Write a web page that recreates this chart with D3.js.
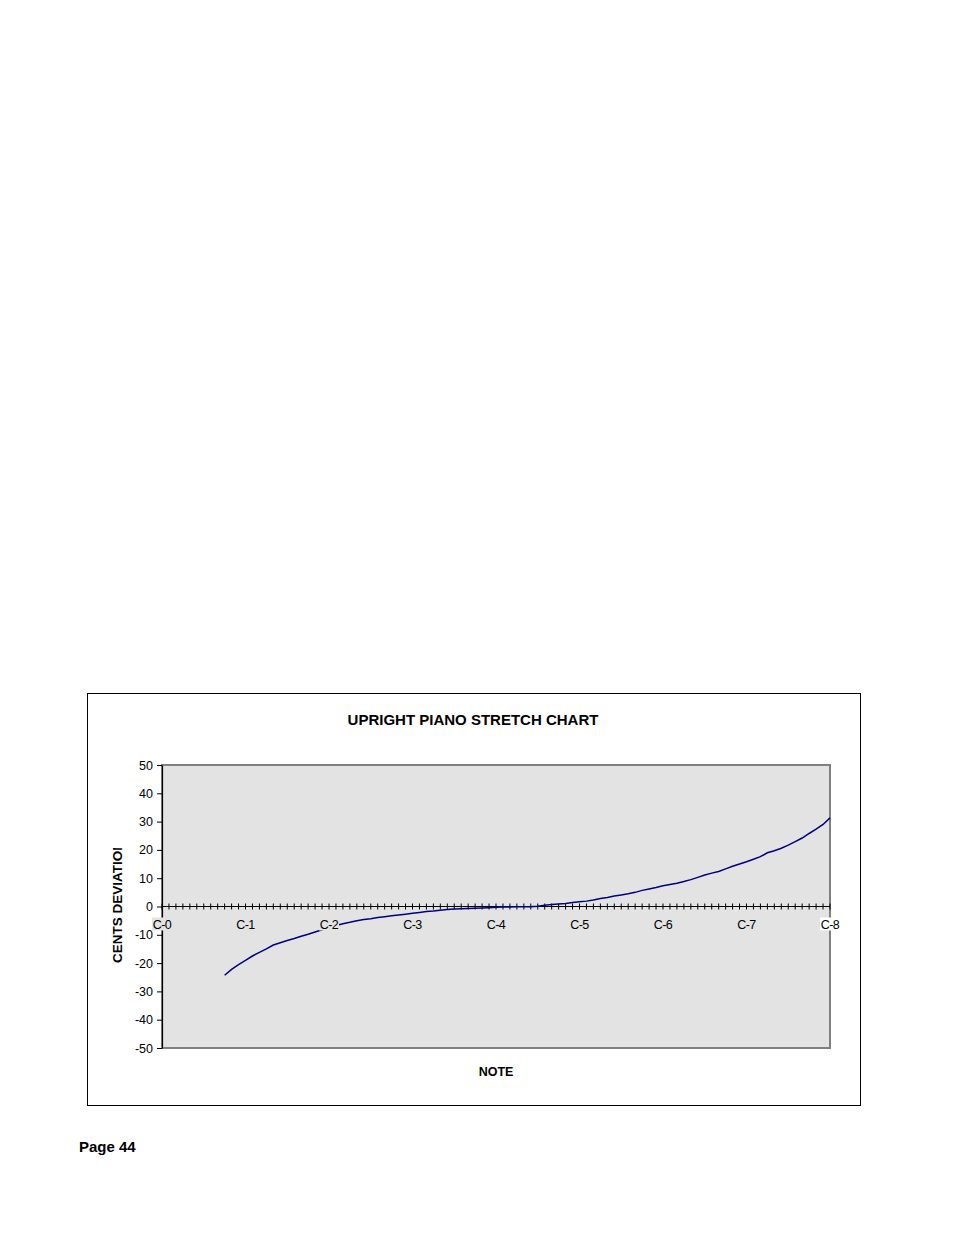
<!DOCTYPE html>
<html>
<head>
<meta charset="utf-8">
<script src="https://cdn.jsdelivr.net/npm/d3@7"></script>
<style>
  body { margin: 0; background: #fff; }
  svg text { font-family: "Liberation Sans", Arial, sans-serif; }
</style>
</head>
<body>
<div id="chart"></div>
<script>
// semitone index from C-0; the piano starts at A-0
var firstNote = 9;
var octaveLabels = ["C-0", "C-1", "C-2", "C-3", "C-4", "C-5", "C-6", "C-7", "C-8"];
var yTicks = [50, 40, 30, 20, 10, 0, -10, -20, -30, -40, -50];
// cents deviation for each key, A-0 .. C-8
var cents = [
  -24.3, -22.2, -20.5,
  -19.0, -17.5, -16.2, -15.0, -13.6, -12.8, -12.0, -11.3, -10.5, -9.8, -9.0, -8.2,
  -7.4, -6.7, -6.1, -5.6, -5.0, -4.6, -4.3, -3.9, -3.6, -3.3, -3.0, -2.7,
  -2.4, -2.1, -1.8, -1.6, -1.3, -1.1, -0.9, -0.8, -0.7, -0.6, -0.5, -0.4,
  -0.3, -0.2, -0.2, -0.1, -0.1, -0.1, 0.1, 0.4, 0.7, 0.9, 1.1, 1.4,
  1.7, 1.9, 2.3, 2.8, 3.2, 3.7, 4.1, 4.5, 5.0, 5.7, 6.2, 6.7,
  7.3, 7.8, 8.2, 8.8, 9.5, 10.3, 11.1, 11.8, 12.4, 13.3, 14.2, 15.0,
  15.8, 16.7, 17.6, 19.0, 19.7, 20.6, 21.7, 22.9, 24.2, 25.8, 27.3, 29.0,
  31.3
];

var W = 954, H = 1235;
var plotL = 162, plotR = 830, plotT = 765, plotB = 1048;

var svg = d3.select('#chart')
            .append('svg')
            .attr('width', W)
            .attr('height', H);

// chart frame
svg.append('rect')
   .attr('x', 87.5).attr('y', 693.5)
   .attr('width', 773).attr('height', 412)
   .attr('fill', '#fff')
   .attr('stroke', '#000')
   .attr('stroke-width', 1);

svg.append('text')
   .attr('x', 473).attr('y', 725)
   .attr('text-anchor', 'middle')
   .style('font-size', '15px').style('font-weight', 'bold')
   .text('UPRIGHT PIANO STRETCH CHART');

var x = d3.scaleLinear().domain([0, 96]).range([plotL, plotR]);
var y = d3.scaleLinear().domain([-50, 50]).range([plotB, plotT]);

// plot area
svg.append('rect')
   .attr('x', plotL).attr('y', plotT)
   .attr('width', plotR - plotL).attr('height', plotB - plotT)
   .attr('fill', '#e3e3e3')
   .attr('stroke', '#808080')
   .attr('stroke-width', 2);

// y axis (plain hyphen for negatives, like the original)
var yAxis = d3.axisLeft(y)
              .tickValues(yTicks)
              .tickFormat(function(d) { return String(d); })
              .tickSize(5)
              .tickPadding(4)
              .tickSizeOuter(0);
var gy = svg.append('g')
            .attr('transform', 'translate(' + plotL + ',0)')
            .call(yAxis);
gy.select('.domain').attr('stroke', '#000').attr('stroke-width', 1.2);
gy.selectAll('.tick line').attr('stroke', '#000');
gy.selectAll('.tick text')
  .style('font-size', '12.5px')
  .attr('fill', '#000')
  .attr('font-family', '"Liberation Sans", Arial, sans-serif');

// x axis at zero, cross ticks every semitone
var semis = d3.range(0, 97);
var gx = svg.append('g');
gx.append('line')
  .attr('x1', x(0)).attr('x2', x(96))
  .attr('y1', y(0)).attr('y2', y(0))
  .attr('stroke', '#000').attr('stroke-width', 1.2);
gx.selectAll('line.tk')
  .data(semis)
  .enter()
  .append('line')
  .attr('class', 'tk')
  .attr('x1', function(d) { return x(d); })
  .attr('x2', function(d) { return x(d); })
  .attr('y1', y(0) - 3)
  .attr('y2', y(0) + 3)
  .attr('stroke', '#000')
  .attr('stroke-width', 1);

// the curve
var line = d3.line()
             .x(function(d, i) { return x(firstNote + i); })
             .y(function(d) { return y(d); });
svg.append('path')
   .datum(cents)
   .attr('d', line)
   .attr('fill', 'none')
   .attr('stroke', '#000080')
   .attr('stroke-width', 1.5);

// octave labels with their little background boxes
var lab = svg.selectAll('g.oct')
             .data(octaveLabels)
             .enter()
             .append('g')
             .attr('class', 'oct')
             .attr('transform', function(d, i) {
               return 'translate(' + x(i * 12) + ',' + (y(0) + 11) + ')';
             });
lab.append('rect')
   .attr('x', -10).attr('y', 0)
   .attr('width', 20).attr('height', 13)
   .attr('fill', function(d, i) { return i === octaveLabels.length - 1 ? '#fff' : '#e3e3e3'; });
lab.append('text')
   .attr('x', 0).attr('y', 11)
   .attr('text-anchor', 'middle')
   .style('font-size', '12.5px')
   .style('letter-spacing', '-0.5px')
   .text(function(d) { return d; });

// axis titles; the vertical one is cut off at the top as in the original
svg.append('clipPath').attr('id', 'yclip')
   .append('rect')
   .attr('x', 100).attr('y', 848)
   .attr('width', 40).attr('height', 130);
svg.append('g')
   .attr('clip-path', 'url(#yclip)')
   .append('text')
   .attr('transform', 'translate(122,963) rotate(-90)')
   .style('font-size', '13.5px').style('font-weight', 'bold')
   .text('CENTS DEVIATION');

svg.append('text')
   .attr('x', 496).attr('y', 1076)
   .attr('text-anchor', 'middle')
   .style('font-size', '12.5px').style('font-weight', 'bold')
   .text('NOTE');

svg.append('text')
   .attr('x', 79).attr('y', 1152)
   .style('font-size', '15px').style('font-weight', 'bold')
   .text('Page 44');
</script>
</body>
</html>
